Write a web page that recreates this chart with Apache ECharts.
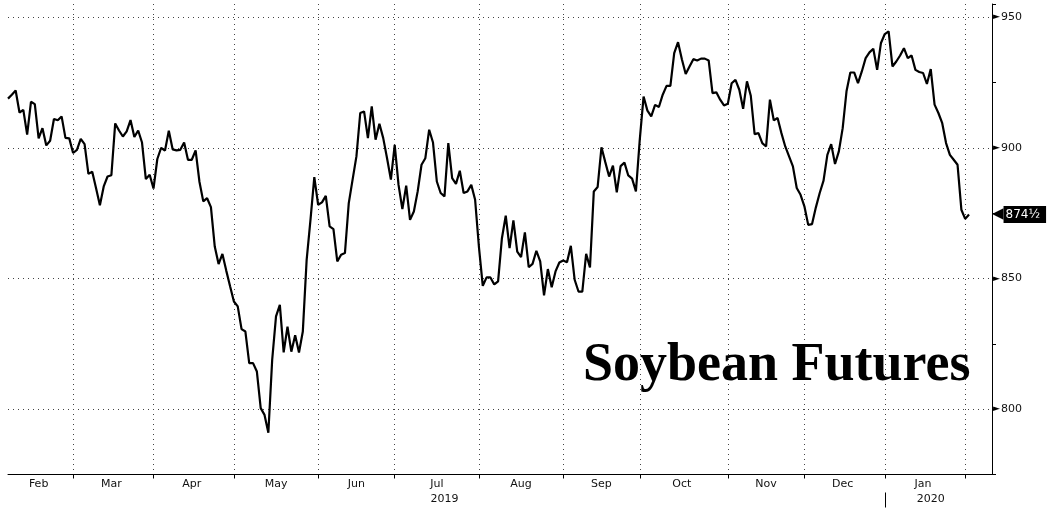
<!DOCTYPE html>
<html>
<head>
<meta charset="utf-8">
<script src="https://cdn.jsdelivr.net/npm/echarts@6/dist/echarts.min.js"></script>
<style>
html,body{margin:0;padding:0;background:#fff;}
#c{width:1052px;height:513px;}
</style>
</head>
<body>
<div id="c"></div>
<script>
// ---- data ----
const startDate = '2019-02-05';
const holidays = ['2019-02-18','2019-04-19','2019-05-27','2019-07-04','2019-09-02','2019-11-28','2019-12-25','2020-01-01','2020-01-20'];
const prices = [
918.8,920.3,921.9,913.5,914.5,905,917.6,916.7,903.6,907.5,
900.9,902.7,911,910.5,912,903.8,903.6,898,899.2,903.4,
901.4,890,890.8,884.5,878,885.2,889,889.5,909.3,906.6,
904.3,906.3,910.6,904.1,906.6,902,888,889.7,884.4,895.7,
900,898.9,906.5,899.4,899,899.2,902,895.4,895.4,899,
887,879.5,880.7,877.3,862.2,855.5,859.4,853,847,841.2,
839.3,830.6,829.7,817.6,817.6,814.4,800.4,797.8,791,818.9,
835.5,839.9,821.7,831.6,822,828.3,821.7,829.7,857.1,872.4,
888.8,878.2,879.1,881.6,869.9,868.9,856.5,859.1,859.7,878.8,
887.8,896.7,913.3,913.9,903.7,915.8,903.1,909.2,903.7,896,
887.8,901.1,885.8,876.5,885.5,872.4,875.6,883.3,893.5,896,
906.9,902,887.1,882.7,881.4,901.8,888.4,886.2,891.2,882.7,
883.3,885.8,880.1,862,847.2,850.4,850.4,847.7,848.9,865.4,
874,861.6,872.2,860.3,858.2,867.6,854.3,855.6,860.6,856.5,
843.5,853.6,846.6,852.7,856.1,856.9,856.2,862.5,849.5,845,
845,859.4,854.2,883.3,885,900.2,894.5,889,893.2,882.9,
893,894.3,889.4,888.2,883.3,903,919.6,914.2,912,916.4,
915.6,920.3,923.7,923.7,936.2,940.4,933.9,928.2,931.1,933.9,
933.4,934.1,934.1,933.4,920.9,921.2,918.4,916.2,916.8,924.7,
926,922.2,914.9,925.4,919.9,905.2,905.6,901.8,900.5,918.4,
910.5,911.4,905.6,900.5,896.7,892.9,884.6,882,877.6,870.5,
870.8,877.2,882.7,887.4,897.3,901.4,893.8,898.6,907.5,921.6,
928.8,928.8,924.7,929.2,934.3,936.5,937.9,929.8,940.1,943.5,
944.5,931.1,933,935.3,938.1,934.3,935.3,929.8,929,928.6,
924.4,930.1,916.5,913.3,909.4,901.8,897.3,895.4,893.5,876.3,
872.8,874.5
];
const padDays = 6;
const monthNames = ['Jan','Feb','Mar','Apr','May','Jun','Jul','Aug','Sep','Oct','Nov','Dec'];
const yearLabels = [['2019-07','2019'],['2020-01','2020']];
const yLabelValues = [800,850,900,950];
const titleText = 'Soybean Futures';
const lastLabel = '874\u00BD';

// ---- categories: trading days ----
const dates = [];
let d = new Date(startDate + 'T00:00:00Z');
while (dates.length < prices.length + padDays) {
  const wd = d.getUTCDay();
  const s = d.toISOString().slice(0, 10);
  if (wd !== 0 && wd !== 6 && holidays.indexOf(s) < 0) dates.push(s);
  d = new Date(d.getTime() + 86400000);
}

// month boundaries
const boundaries = [];
for (let i = 1; i < dates.length; i++) {
  if (dates[i].slice(0, 7) !== dates[i - 1].slice(0, 7)) boundaries.push(i);
}
const boundarySet = new Set(boundaries);
const labelIdx = new Map();
const monthLabelIdx = {};
const starts = [0].concat(boundaries);
for (let k = 0; k < starts.length - 1; k++) {
  const c = Math.floor((starts[k] + starts[k + 1]) / 2);
  labelIdx.set(c, monthNames[+dates[starts[k]].slice(5, 7) - 1]);
  monthLabelIdx[dates[starts[k]].slice(0, 7)] = c;
}
const yearIdx = new Map();
yearLabels.forEach(([m, y]) => { if (monthLabelIdx[m] !== undefined) yearIdx.set(monthLabelIdx[m] + 2, y); });
const yearSep = dates.findIndex(s => s.slice(0, 4) === '2020');

const seriesData = prices.concat(new Array(padDays).fill(null));

const chart = echarts.init(document.getElementById('c'), null, {renderer: 'canvas'});
const gridColor = '#444';
chart.setOption({
  animation: false,
  backgroundColor: '#fff',
  textStyle: {fontFamily: 'DejaVu Sans'},
  title: {
    text: titleText, left: 583, top: 339, padding: 0,
    textStyle: {fontFamily: 'Liberation Serif', fontWeight: 'bold', fontSize: 54, color: '#000'}
  },
  grid: {left: 8, right: 60, top: 4, bottom: 38.5, containLabel: false},
  xAxis: [{
    type: 'category', data: dates, boundaryGap: false, gridIndex: 0,
    axisLine: {show: true, lineStyle: {color: '#000', width: 1}},
    axisTick: {show: true, length: 4, interval: (i) => boundarySet.has(i), lineStyle: {color: '#000'}},
    axisLabel: {
      show: true, interval: (i) => labelIdx.has(i), formatter: (v, i) => labelIdx.get(i) || '',
      color: '#111', fontFamily: 'DejaVu Sans', fontSize: 11, margin: 4
    },
    splitLine: {show: true, interval: (i) => boundarySet.has(i), lineStyle: {color: gridColor, type: [1, 4], width: 1}}
  }, {
    type: 'category', data: dates, boundaryGap: false, gridIndex: 0, position: 'bottom', offset: 18,
    axisLine: {show: false},
    axisTick: {show: true, length: 15, interval: (i) => i === yearSep, lineStyle: {color: '#000'}},
    axisLabel: {
      show: true, interval: (i) => yearIdx.has(i), formatter: (v, i) => yearIdx.get(i) || '',
      color: '#111', fontFamily: 'DejaVu Sans', fontSize: 11, margin: 1
    },
    splitLine: {show: false}
  }],
  yAxis: {
    type: 'value', position: 'right', min: 775, max: 955, interval: 25,
    axisLine: {show: true, lineStyle: {color: '#000', width: 1}},
    axisTick: {show: true, length: 4, lineStyle: {color: '#000'}},
    axisLabel: {
      show: true, margin: 1,
      formatter: (v) => yLabelValues.indexOf(v) >= 0 ? '{a|\u25BA}{b|' + v + '}' : '',
      rich: {
        a: {fontSize: 9, color: '#000', fontFamily: 'DejaVu Sans', padding: [0, 1, 0, 0]},
        b: {fontSize: 11, color: '#111', fontFamily: 'DejaVu Sans'}
      }
    },
    splitLine: {show: true, lineStyle: {color: ['rgba(0,0,0,0)', gridColor], type: [1, 4], width: 1}}
  },
  series: [{
    type: 'line', data: seriesData, xAxisIndex: 0, yAxisIndex: 0,
    symbol: 'none', showSymbol: false, connectNulls: false,
    lineStyle: {color: '#000', width: 2.2}, itemStyle: {color: '#000'},
    markLine: {
      silent: true, animation: false, symbol: ['none', 'none'],
      lineStyle: {color: 'rgba(0,0,0,0)', width: 0, type: 'solid'},
      label: {
        show: true, position: 'end', distance: 0,
        formatter: '{arr|\u25C0}{box|' + lastLabel + '}',
        rich: {
          arr: {color: '#000', fontSize: 15, lineHeight: 18, fontFamily: 'DejaVu Sans', padding: [0, 0, 0, 0]},
          box: {backgroundColor: '#000', color: '#fff', fontSize: 12, lineHeight: 14, fontFamily: 'DejaVu Sans', padding: [3, 6, 2, 2]}
        }
      },
      data: [{yAxis: prices[prices.length - 1]}]
    }
  }]
});
</script>
</body>
</html>
